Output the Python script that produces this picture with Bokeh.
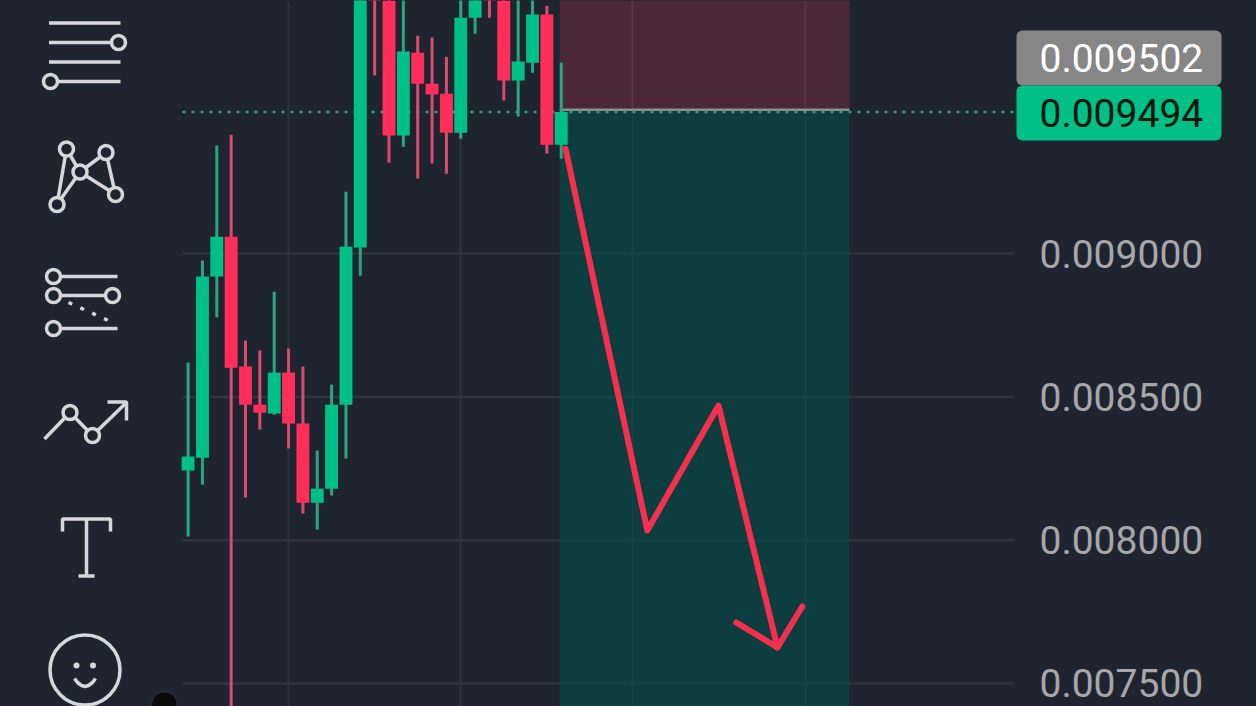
from bokeh.core.properties import value
from bokeh.embed import file_html
from bokeh.resources import INLINE
from bokeh.models import Range1d, FixedTicker
from bokeh.plotting import figure

# ---- data (prices) ----
opens  = [0.008243,0.008288,0.008920,0.009059,0.008606,0.008473,0.008442,0.008585,0.008407,0.008131,0.008180,0.008473,0.009021,
          0.010100,0.009950,0.009412,0.009701,0.009593,0.009558,0.009422,0.009823,0.010100,0.009950,0.009604,0.009666,0.009834,0.009380]
closes = [0.008292,0.008920,0.009059,0.008602,0.008473,0.008445,0.008585,0.008407,0.008131,0.008180,0.008473,0.009024,0.010000,
          0.009950,0.009412,0.009705,0.009593,0.009555,0.009422,0.009823,0.009930,0.009950,0.009604,0.009670,0.009834,0.009380,0.009494]
highs  = [0.008620,0.008976,0.009377,0.009415,0.008697,0.008662,0.008867,0.008669,0.008606,0.008313,0.008543,0.009216,0.010100,
          0.010150,0.010000,0.009950,0.009760,0.009754,0.009687,0.009950,0.010000,0.010150,0.010000,0.009950,0.009950,0.009865,0.009666]
lows   = [0.008013,0.008194,0.008777,0.007350,0.008149,0.008386,0.008438,0.008320,0.008093,0.008037,0.008156,0.008285,0.008923,
          0.009621,0.009317,0.009373,0.009262,0.009314,0.009279,0.009401,0.009767,0.009823,0.009534,0.009478,0.009631,0.009349,0.009331]
y_ticks = [0.0075, 0.0080, 0.0085, 0.0090]
y_tick_labels = ["0.007500", "0.008000", "0.008500", "0.009000"]
x_ticks = [7, 19, 31, 43]
entry_price = 0.009502
last_price = 0.009494
entry_label = "0.009502"
last_label = "0.009494"
zone_start = 25.9
zone_end = 46.09
zone_top = 0.0105
zone_bottom = 0.0070
arrow_x = [26.3, 32.0, 36.96, 41.07]
arrow_y = [0.009366, 0.008034, 0.00847, 0.007626]
head_x = [38.2, 41.07, 42.8]
head_y = [0.007713, 0.007626, 0.007769]

BG = "#1f2530"
UP = "#00c087"
DOWN = "#ff2d5a"
GRID = "#2e343e"
ICON = "#d6d7da"

p = figure(width=1256, height=706, output_backend="svg", toolbar_location=None,
           x_range=Range1d(-13.073, 74.45), y_range=Range1d(0.00742, 0.009883),
           x_axis_location=None, y_axis_location=None,
           min_border_left=0, min_border_top=0, min_border_bottom=0, min_border_right=0,
           background_fill_color=BG, border_fill_color=BG, outline_line_color=None)

p.ygrid.visible = False
p.xgrid.ticker = FixedTicker(ticks=x_ticks)
p.xgrid.grid_line_color = GRID
p.xgrid.grid_line_width = 2

# horizontal rules start right of the tool strip
p.segment([-0.39] * len(y_ticks), y_ticks, [57.52] * len(y_ticks), y_ticks, line_color=GRID, line_width=2.5)

# position zones
p.quad(left=[zone_start], right=[zone_end], top=[zone_top], bottom=[entry_price],
       fill_color="#ff3b5c", fill_alpha=0.2, line_color=None)
p.quad(left=[zone_start], right=[zone_end], top=[entry_price], bottom=[zone_bottom],
       fill_color="#005048", fill_alpha=0.58, line_color=None)
p.segment([zone_start], [entry_price], [zone_end], [entry_price], line_color="#8a8f8f", line_width=2.5)

# last price line
p.segment([-0.39], [last_price], [57.73], [last_price], line_color="#2f9c83", line_width=2.5, line_dash="3 6")

# candles
idx = list(range(len(opens)))
up = [i for i in idx if closes[i] >= opens[i]]
dn = [i for i in idx if closes[i] < opens[i]]
for ids, col, wick in ((up, UP, "#2aa582"), (dn, DOWN, "#d94a6c")):
    p.segment(ids, [lows[i] for i in ids], ids, [highs[i] for i in ids], line_color=wick, line_width=3)
    p.vbar(ids, 0.9, [opens[i] for i in ids], [closes[i] for i in ids], fill_color=col, line_color=None)

# drawn arrow
p.line(arrow_x, arrow_y, line_color="#f5304f", line_width=6, line_join="round", line_cap="round")
p.line(head_x, head_y, line_color="#f5304f", line_width=6, line_join="round", line_cap="round")

# tool strip and price tags, in a pixel-sized range
p.extra_x_ranges["px"] = Range1d(0, 1256)
p.extra_y_ranges["px"] = Range1d(706, 0)
kw = dict(x_range_name="px", y_range_name="px")

def stroke(xs, ys, w=3.5):
    p.line(xs, ys, line_color=ICON, line_width=w, **kw)

def rings(xs, ys, s=14):
    p.scatter(xs, ys, marker="circle", size=s, fill_color=BG, line_color=ICON, line_width=3.5, **kw)

# icon 1
for y0, a, b in ((22.5, 48.5, 120), (42, 48.5, 118), (61.5, 48.5, 120), (81, 50, 120)):
    stroke([a, b], [y0, y0])
rings([118, 50], [42, 81])
# icon 2
stroke([66, 56.5, 79.5, 115, 105.5, 79.5, 66], [148.5, 204, 171.5, 194, 152, 171.5, 148.5])
rings([66, 105.5, 79.5, 115, 56.5], [148.5, 152, 171.5, 194, 204])
# icon 3
stroke([53, 117], [276, 276])
stroke([53, 112], [295, 295])
stroke([53, 117], [328, 328])
p.line([68, 110], [302, 321], line_color=ICON, line_width=3.5, line_dash="4 9", **kw)
rings([53, 53, 112, 53], [276, 295, 295, 328])
# icon 4
stroke([44, 69.5, 92, 126], [438.5, 412, 435, 402])
stroke([107, 126, 126], [401.5, 401.5, 420])
rings([69.5, 92], [412, 435])
# text tool
stroke([62, 62, 110, 110], [531, 518.5, 518.5, 531])
stroke([86, 86], [518.5, 575])
stroke([78, 94], [575.5, 575.5])
# smiley
p.scatter([84.5], [669.5], marker="circle", size=70, fill_color=None, line_color=ICON, line_width=3.5, **kw)
p.scatter([76, 92.5], [665, 665], marker="circle", size=6, fill_color=ICON, line_color=None, **kw)
stroke([74, 77, 81, 84.5, 88, 92, 95], [678, 682, 685, 686, 685, 682, 678])
# dark dot
p.scatter([164], [704], marker="circle", size=26, fill_color="#0b0b0b", line_color="#2a2d33", line_width=1.5, **kw)

# price scale labels
p.text([1039] * len(y_ticks), [(0.009 - t) / 0.0005 * 143.33 + 253 for t in y_ticks], text=y_tick_labels,
       text_font=value("Roboto"), text_font_size="39px", text_color="#a5a7aa",
       text_align="left", text_baseline="middle", **kw)

# price tags
for txt, top, bottom, yy, bg, fg in ((entry_label, 30, 85, 57, "#868686", "#ffffff"),
                                     (last_label, 85, 140, 112, "#00c087", "#07150f")):
    p.quad(left=[1016], right=[1221], top=[top], bottom=[bottom], fill_color=bg, line_color=None,
           border_radius=6, **kw)
    p.text([1039], [yy], text=[txt], text_font=value("Roboto"), text_font_size="39px", text_color=fg,
           text_align="left", text_baseline="middle", **kw)

html = file_html(p, INLINE)
html = html.replace("<head>", "<head><style>html,body{margin:0;padding:0;overflow:hidden;background:#1f2530}</style>", 1)
open("out.html", "w").write(html)
